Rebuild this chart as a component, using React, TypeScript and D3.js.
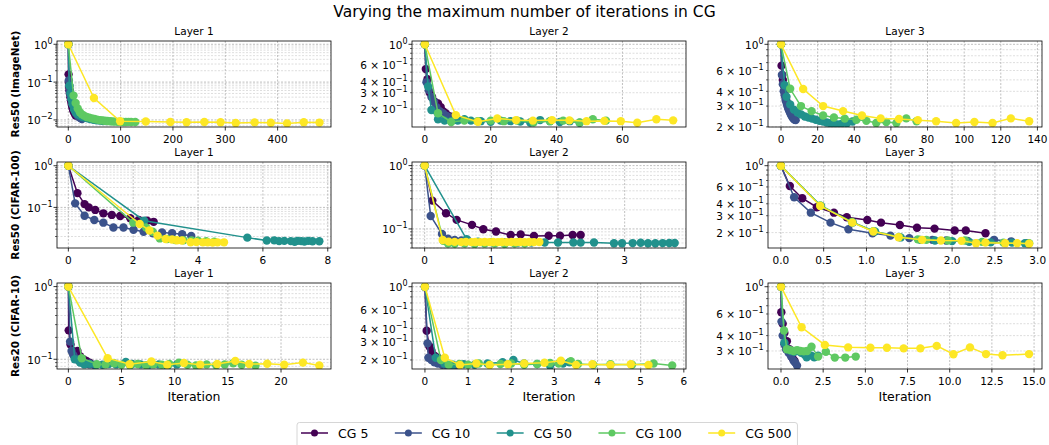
import React, { useEffect, useRef } from 'react';
import * as d3 from 'd3';

type Pt = [number, number];

const W = 1049;
const H = 445;

const chartTitle = 'Varying the maximum number of iterations in CG';
const seriesNames = ['CG 5', 'CG 10', 'CG 50', 'CG 100', 'CG 500'];
const seriesColors = ['#440154', '#3b528b', '#21918c', '#5ec962', '#fde725'];
const rowLabels = ['Res50 (ImageNet)', 'Res50 (CIFAR-100)', 'Res20 (CIFAR-10)'];
const layerTitles = ['Layer 1', 'Layer 2', 'Layer 3'];

// ---- Res50 (ImageNet) ----
const imagenetL1: Pt[][] = [
  [[0, 1], [0.5, 0.16], [1, 0.1], [1.5, 0.075], [2, 0.06], [3, 0.05], [4, 0.04], [5, 0.033], [6, 0.028], [7, 0.024], [8, 0.021], [9, 0.019], [10, 0.017], [12, 0.015], [14, 0.013]],
  [[0, 1], [1, 0.11], [2, 0.08], [3, 0.06], [4, 0.05], [5, 0.042], [6, 0.035], [8, 0.028], [10, 0.023], [12, 0.019], [14, 0.016], [16, 0.014], [18, 0.013], [20, 0.012], [23, 0.0112], [26, 0.0105]],
  [[0, 1], [2, 0.08], [4, 0.05], [6, 0.035], [8, 0.026], [11, 0.019], [14, 0.016], [18, 0.014], [22, 0.013], [27, 0.012], [32, 0.0115], [37, 0.011], [42, 0.0105], [48, 0.0101], [54, 0.0098], [60, 0.0096], [66, 0.0094], [72, 0.0093]],
  [[0, 1], [10, 0.044], [14, 0.028], [18, 0.02], [22, 0.016], [26, 0.014], [30, 0.013], [35, 0.012], [40, 0.0115], [45, 0.011], [50, 0.0106], [55, 0.0102], [60, 0.0099], [65, 0.0097], [70, 0.0095], [75, 0.0094], [80, 0.0092], [85, 0.0091], [90, 0.009], [95, 0.0089], [100, 0.0089], [105, 0.0088], [110, 0.0088], [115, 0.0089], [120, 0.0088], [128, 0.0088]],
  [[0, 1], [49, 0.038], [99, 0.0092], [148, 0.0091], [195, 0.0088], [226, 0.0087], [260, 0.0088], [291, 0.0087], [320, 0.0083], [356, 0.0086], [387, 0.0084], [418, 0.0081], [450, 0.0087], [480, 0.0085]],
];
const imagenetL2: Pt[][] = [
  [[0, 1], [0.3, 0.54], [0.8, 0.42], [1.5, 0.3], [2.2, 0.27], [3, 0.24], [4, 0.23], [4.8, 0.21], [5.5, 0.19], [6.3, 0.18], [7, 0.17], [8, 0.165], [9, 0.16], [10, 0.155]],
  [[0, 1], [0.5, 0.39], [1.2, 0.32], [2, 0.27], [2.8, 0.24], [3.5, 0.21], [4.5, 0.19], [5.5, 0.18], [6.5, 0.17], [7.5, 0.163], [8.5, 0.158], [9.5, 0.154]],
  [[0, 1], [1, 0.35], [2, 0.195], [4, 0.155], [6, 0.15], [8, 0.148], [10, 0.15], [12, 0.155], [14, 0.15], [17, 0.148], [20, 0.146], [23, 0.15], [26, 0.148], [29, 0.147], [32, 0.143], [35, 0.152], [38, 0.148], [41, 0.145], [44, 0.148], [47, 0.142]],
  [[0, 1], [4, 0.18], [8, 0.145], [12, 0.15], [16, 0.148], [20, 0.15], [24, 0.148], [28, 0.15], [33, 0.143], [38, 0.148], [42, 0.15], [47, 0.143], [51, 0.155], [55, 0.15]],
  [[0, 1], [9.4, 0.172], [16.1, 0.146], [22, 0.158], [27.7, 0.152], [32.8, 0.15], [38.6, 0.152], [43.9, 0.151], [49.1, 0.148], [54.5, 0.149], [59.5, 0.148], [64.5, 0.142], [70.3, 0.155], [75.4, 0.151]],
];
const imagenetL3: Pt[][] = [
  [[0, 1], [0.3, 0.66], [0.7, 0.55], [1, 0.5], [1.5, 0.45], [2, 0.4], [2.5, 0.36], [3, 0.33], [3.5, 0.31], [4, 0.29], [4.5, 0.28], [5, 0.27]],
  [[0, 1], [0.5, 0.55], [1, 0.46], [1.5, 0.4], [2, 0.37], [2.5, 0.34], [3, 0.32], [3.5, 0.3], [4, 0.285], [4.5, 0.272], [5, 0.262], [5.5, 0.252], [6, 0.245], [6.5, 0.238], [7, 0.233], [7.5, 0.23], [8, 0.228]],
  [[0, 1], [2, 0.45], [3, 0.36], [5, 0.31], [7, 0.28], [9, 0.265], [11, 0.255], [13, 0.245], [15, 0.24], [17, 0.235], [19, 0.23], [21, 0.225], [23, 0.222], [25, 0.218], [27, 0.215], [29, 0.213], [31, 0.21], [33, 0.212], [36, 0.215], [39, 0.222]],
  [[0, 1], [5, 0.42], [10.9, 0.3], [16.7, 0.272], [23, 0.25], [28.9, 0.24], [34.8, 0.235], [41.2, 0.23], [46.6, 0.225], [52, 0.216], [57.5, 0.22], [63, 0.216], [68.4, 0.236], [74, 0.223]],
  [[0, 1], [12.1, 0.418], [23, 0.3], [33.9, 0.272], [44.2, 0.25], [54.4, 0.236], [64.4, 0.233], [74.7, 0.228], [84.7, 0.223], [95.6, 0.216], [105.6, 0.22], [115.5, 0.216], [125.5, 0.236], [135.5, 0.223]],
];

// ---- Res50 (CIFAR-100) ----
const cifar100L1: Pt[][] = [
  [[0, 1], [0.28, 0.22], [0.5, 0.12], [0.63, 0.1], [0.83, 0.087], [1.08, 0.072], [1.34, 0.066], [1.6, 0.062], [1.91, 0.055], [2.17, 0.05], [2.43, 0.048], [2.63, 0.045]],
  [[0, 1], [0.21, 0.125], [0.5, 0.063], [0.8, 0.05], [1.08, 0.043], [1.39, 0.033], [1.7, 0.033], [2.01, 0.029], [2.32, 0.026], [2.61, 0.024], [2.89, 0.025], [3.2, 0.024], [3.51, 0.0226], [3.79, 0.0206]],
  [[0, 1], [2.34, 0.048], [5.52, 0.0188], [6.12, 0.016], [6.35, 0.0162], [6.5, 0.0155], [6.66, 0.0157], [6.86, 0.0155], [6.98, 0.015], [7.07, 0.0157], [7.18, 0.0155], [7.28, 0.0152], [7.4, 0.0157], [7.53, 0.0154], [7.74, 0.0154]],
  [[0, 1], [2.0, 0.043], [2.4, 0.033], [2.6, 0.026], [2.82, 0.018], [3.05, 0.0175], [3.3, 0.0165], [3.55, 0.0163], [3.8, 0.016], [4.0, 0.0158], [4.25, 0.0155], [4.5, 0.015]],
  [[0, 1], [2.2, 0.04], [2.5, 0.028], [2.75, 0.021], [3.0, 0.0175], [3.2, 0.017], [3.35, 0.0163], [3.5, 0.016], [3.77, 0.0146], [3.95, 0.0147], [4.15, 0.0145], [4.3, 0.0145], [4.45, 0.0143], [4.6, 0.0145], [4.8, 0.0145]],
];
const cifar100L2: Pt[][] = [
  [[0, 1], [0.115, 0.28], [0.32, 0.177], [0.48, 0.139], [0.71, 0.116], [0.88, 0.099], [1.07, 0.091], [1.29, 0.08], [1.44, 0.082], [1.64, 0.0776], [1.86, 0.078], [2.03, 0.078], [2.22, 0.08], [2.34, 0.08]],
  [[0, 1], [0.09, 0.16], [0.26, 0.083], [0.35, 0.07], [0.45, 0.067], [0.55, 0.066], [0.65, 0.065]],
  [[0, 1], [0.63, 0.0687], [0.8, 0.063], [1.0, 0.062], [1.2, 0.062], [1.4, 0.061], [1.6, 0.061], [1.8, 0.061], [2.0, 0.061], [2.23, 0.061], [2.34, 0.0608], [2.54, 0.061], [2.84, 0.0595], [2.96, 0.0595], [3.12, 0.0598], [3.24, 0.0605], [3.35, 0.0595], [3.46, 0.0595], [3.57, 0.0598], [3.67, 0.06], [3.75, 0.06]],
  [[0, 1], [0.28, 0.065], [0.35, 0.059], [0.45, 0.0585], [0.6, 0.059], [0.75, 0.058], [0.9, 0.059], [1.05, 0.059], [1.2, 0.058], [1.35, 0.059], [1.5, 0.059]],
  [[0, 1], [0.27, 0.067], [0.36, 0.063], [0.45, 0.0625], [0.55, 0.062], [0.62, 0.0625], [0.7, 0.062], [0.76, 0.0622], [0.83, 0.062], [0.9, 0.0622], [0.97, 0.062], [1.03, 0.0622], [1.1, 0.062], [1.16, 0.0622], [1.23, 0.062], [1.3, 0.0622], [1.37, 0.062], [1.43, 0.0622], [1.5, 0.062], [1.57, 0.0622], [1.64, 0.062], [1.72, 0.0622]],
];
const cifar100L3: Pt[][] = [
  [[0, 1], [0.105, 0.614], [0.25, 0.457], [0.42, 0.368], [0.62, 0.323], [0.77, 0.289], [1.01, 0.271], [1.17, 0.254], [1.39, 0.24], [1.59, 0.225], [1.795, 0.22], [2.03, 0.21], [2.16, 0.21], [2.39, 0.197]],
  [[0, 1], [0.155, 0.468], [0.35, 0.323], [0.58, 0.254], [0.79, 0.217], [1.07, 0.197], [1.28, 0.186], [1.5, 0.175], [1.77, 0.168], [1.93, 0.165], [2.18, 0.164], [2.49, 0.168], [2.69, 0.162], [2.88, 0.155]],
  [[0, 1], [0.47, 0.38], [0.84, 0.255], [1.1, 0.205], [1.4, 0.178], [1.63, 0.168], [1.8, 0.165], [2.0, 0.163], [2.2, 0.16], [2.45, 0.158], [2.7, 0.157], [2.85, 0.155]],
  [[0, 1], [0.46, 0.385], [0.83, 0.258], [1.08, 0.207], [1.38, 0.18], [1.6, 0.17], [1.7, 0.168], [1.95, 0.165], [2.15, 0.165], [2.35, 0.16], [2.6, 0.157], [2.9, 0.155]],
  [[0, 1], [0.46, 0.38], [0.835, 0.254], [1.08, 0.205], [1.375, 0.179], [1.65, 0.168], [1.87, 0.165], [2.11, 0.164], [2.28, 0.155], [2.39, 0.157], [2.62, 0.155], [2.76, 0.155], [2.9, 0.153]],
];

// ---- Res20 (CIFAR-10) ----
const cifar10L1: Pt[][] = [
  [[0, 1], [0.03, 0.25], [0.2, 0.16], [0.4, 0.13], [0.6, 0.125], [0.85, 0.13], [1.1, 0.11], [1.4, 0.1], [1.7, 0.095], [2.0, 0.09]],
  [[0, 1], [0.16, 0.175], [0.3, 0.13], [0.45, 0.115], [0.6, 0.105], [0.8, 0.1], [1.0, 0.095], [1.3, 0.09], [1.6, 0.088], [2.0, 0.085], [2.4, 0.084]],
  [[0, 1], [0.6, 0.1], [1.1, 0.09], [1.5, 0.085], [2.0, 0.087], [2.6, 0.083], [3.2, 0.084], [3.8, 0.086], [4.5, 0.085], [5.4, 0.092], [6.0, 0.086], [6.8, 0.085], [7.6, 0.084], [8.5, 0.085], [9.3, 0.08], [10.2, 0.085]],
  [[0, 1], [1.26, 0.1035], [2.68, 0.0856], [3.5, 0.085], [4.3, 0.088], [5.0, 0.084], [5.8, 0.082], [6.5, 0.086], [7.3, 0.083], [8.0, 0.085], [8.8, 0.084], [9.5, 0.086], [10.4, 0.09], [11.2, 0.084], [12, 0.082], [13, 0.085], [13.9, 0.083], [14.7, 0.085], [15.5, 0.088], [16.3, 0.084], [17.6, 0.0815]],
  [[0, 1], [3.69, 0.1035], [5.77, 0.0856], [7.81, 0.093], [9.3, 0.084], [10.87, 0.089], [12.4, 0.084], [14.0, 0.086], [15.7, 0.095], [17.0, 0.086], [18.7, 0.087], [20.3, 0.084], [22.06, 0.09], [23.6, 0.082]],
];
const cifar10L2: Pt[][] = [
  [[0, 1], [0.04, 0.38], [0.1, 0.27], [0.15, 0.245], [0.22, 0.22], [0.3, 0.21], [0.38, 0.195], [0.45, 0.185], [0.55, 0.178], [0.65, 0.172], [0.75, 0.168]],
  [[0, 1], [0.06, 0.288], [0.08, 0.21], [0.15, 0.2], [0.22, 0.19], [0.3, 0.185], [0.4, 0.18], [0.5, 0.178], [0.6, 0.175], [0.7, 0.172]],
  [[0, 1], [0.25, 0.21], [0.45, 0.185], [0.65, 0.18], [0.9, 0.182], [1.15, 0.18], [1.45, 0.185], [1.8, 0.19], [2.05, 0.2], [2.3, 0.185], [2.6, 0.183], [2.9, 0.176], [3.2, 0.185], [3.35, 0.19]],
  [[0, 1], [0.37, 0.2], [0.55, 0.18], [0.8, 0.183], [1.0, 0.18], [1.25, 0.185], [1.5, 0.18], [1.75, 0.183], [2.0, 0.185], [2.3, 0.18], [2.6, 0.183], [2.9, 0.187], [3.1, 0.185], [3.38, 0.195], [3.55, 0.183], [3.9, 0.18], [4.3, 0.182], [4.8, 0.18], [5.3, 0.185], [5.73, 0.177]],
  [[0, 1], [0.46, 0.21], [0.81, 0.179], [1.19, 0.185], [1.5, 0.179], [1.92, 0.182], [2.3, 0.185], [2.77, 0.188], [3.15, 0.197], [3.5, 0.179], [3.88, 0.182], [4.3, 0.179], [4.77, 0.182], [5.18, 0.179]],
];
const cifar10L3: Pt[][] = [
  [[0, 1], [0.02, 0.62], [0.1, 0.5], [0.2, 0.42], [0.35, 0.36], [0.5, 0.31], [0.6, 0.28], [0.7, 0.26], [0.8, 0.25]],
  [[0, 1], [0.03, 0.52], [0.1, 0.4], [0.2, 0.34], [0.3, 0.31], [0.45, 0.29], [0.6, 0.27], [0.75, 0.25], [0.85, 0.24], [0.95, 0.228]],
  [[0, 1], [0.2, 0.35], [0.4, 0.31], [0.6, 0.3], [0.8, 0.295], [1.0, 0.3], [1.2, 0.29], [1.4, 0.28], [1.52, 0.267], [1.8, 0.275], [1.97, 0.267], [2.2, 0.275]],
  [[0, 1], [0.18, 0.44], [0.35, 0.31], [0.55, 0.305], [0.75, 0.3], [0.95, 0.305], [1.15, 0.3], [1.35, 0.298], [1.55, 0.3], [1.81, 0.325], [2.2, 0.27], [2.66, 0.296], [3.19, 0.265], [3.81, 0.265], [4.43, 0.27]],
  [[0, 1], [1.22, 0.468], [2.6, 0.336], [3.98, 0.321], [5.3, 0.319], [6.28, 0.319], [7.27, 0.315], [8.26, 0.315], [9.23, 0.33], [10.22, 0.282], [11.2, 0.321], [12.15, 0.283], [13.13, 0.277], [14.7, 0.283]],
];

const panelData = [
  [imagenetL1, imagenetL2, imagenetL3],
  [cifar100L1, cifar100L2, cifar100L3],
  [cifar10L1, cifar10L2, cifar10L3],
];

// axis ranges
const xDomains: [number, number][][] = [
  [[-21.6, 502], [-3.9, 79.3], [-7.1, 142.5]],
  [[-0.35, 8.1], [-0.19, 3.92], [-0.15, 3.05]],
  [[-1.07, 24.7], [-0.3, 6.05], [-0.77, 15.47]],
];
const yDomains: [number, number][][] = [
  [[0.0065, 1.22], [0.128, 1.085], [0.1995, 1.067]],
  [[0.0106, 1.23], [0.05, 1.14], [0.138, 1.093]],
  [[0.0735, 1.12], [0.164, 1.085], [0.214, 1.072]],
];
const xTicks: number[][][] = [
  [[0, 100, 200, 300, 400], [0, 20, 40, 60], [0, 20, 40, 60, 80, 100, 120, 140]],
  [[0, 2, 4, 6, 8], [0, 1, 2, 3], [0, 0.5, 1, 1.5, 2, 2.5, 3]],
  [[0, 5, 10, 15, 20], [0, 1, 2, 3, 4, 5, 6], [0, 2.5, 5, 7.5, 10, 12.5, 15]],
];
const xTickDecimals = [
  [0, 0, 0],
  [0, 0, 1],
  [0, 0, 1],
];
const labelMinor = [
  [false, true, true],
  [false, false, true],
  [false, true, true],
];
const minorLabelled = [2, 3, 4, 6];

const colLeft = [57, 412, 768];
const rowTop = [41, 162, 283];
const plotW = 274;
const plotH = 86;
const font = "'DejaVu Sans', sans-serif";

function logTicks(lo: number, hi: number) {
  const out: { v: number; k: number; e: number }[] = [];
  for (let e = Math.floor(Math.log10(lo)); e <= Math.ceil(Math.log10(hi)); e++) {
    for (let k = 1; k <= 9; k++) {
      const v = k * Math.pow(10, e);
      if (v >= lo && v <= hi) out.push({ v, k, e });
    }
  }
  return out;
}

export default function App() {
  const svgRef = useRef<SVGSVGElement>(null);

  useEffect(() => {
    if (!svgRef.current) return;
    const svg = d3.select(svgRef.current);
    svg.selectAll('*').remove();

    svg.append('rect').attr('width', W).attr('height', H).attr('fill', '#fff');

    svg.append('text')
      .attr('x', 524.5).attr('y', 16.5)
      .attr('text-anchor', 'middle')
      .attr('font-size', 15.5)
      .attr('fill', '#000')
      .text(chartTitle);

    const defs = svg.append('defs');

    panelData.forEach((row, r) => {
      row.forEach((series, c) => {
        const left = colLeft[c];
        const top = rowTop[r];
        const bottom = top + plotH;
        const x = d3.scaleLinear().domain(xDomains[r][c]).range([left, left + plotW]);
        const y = d3.scaleLog().domain(yDomains[r][c]).range([bottom, top]);
        const g = svg.append('g');
        const yt = logTicks(yDomains[r][c][0], yDomains[r][c][1]);

        // grid, both major and minor on y
        g.selectAll('.gy')
          .data(yt)
          .join('line')
          .attr('x1', left).attr('x2', left + plotW)
          .attr('y1', d => y(d.v)).attr('y2', d => y(d.v))
          .attr('stroke', d => (d.k === 1 ? '#b0b0b0' : '#c8c8c8'))
          .attr('stroke-width', d => (d.k === 1 ? 0.8 : 0.6))
          .attr('stroke-dasharray', '2,1.5');
        g.selectAll('.gx')
          .data(xTicks[r][c])
          .join('line')
          .attr('x1', d => x(d)).attr('x2', d => x(d))
          .attr('y1', top).attr('y2', bottom)
          .attr('stroke', '#b0b0b0')
          .attr('stroke-width', 0.8)
          .attr('stroke-dasharray', '2,1.5');

        // series
        const clipId = `clip-${r}-${c}`;
        defs.append('clipPath').attr('id', clipId)
          .append('rect').attr('x', left).attr('y', top).attr('width', plotW).attr('height', plotH);
        const plot = g.append('g').attr('clip-path', `url(#${clipId})`);
        const line = d3.line<Pt>().x(d => x(d[0])).y(d => y(d[1]));
        series.forEach((pts, s) => {
          plot.append('path')
            .attr('d', line(pts))
            .attr('fill', 'none')
            .attr('stroke', seriesColors[s])
            .attr('stroke-width', 1.5);
          plot.selectAll(`.m${s}`)
            .data(pts)
            .join('circle')
            .attr('cx', d => x(d[0]))
            .attr('cy', d => y(d[1]))
            .attr('r', 4.2)
            .attr('fill', seriesColors[s]);
        });

        // frame
        g.append('rect')
          .attr('x', left).attr('y', top).attr('width', plotW).attr('height', plotH)
          .attr('fill', 'none').attr('stroke', '#000').attr('stroke-width', 0.8);

        // x ticks
        const fmt = d3.format(`.${xTickDecimals[r][c]}f`);
        xTicks[r][c].forEach(t => {
          g.append('line')
            .attr('x1', x(t)).attr('x2', x(t))
            .attr('y1', bottom).attr('y2', bottom + 3.5)
            .attr('stroke', '#000').attr('stroke-width', 0.8);
          g.append('text')
            .attr('x', x(t)).attr('y', bottom + 15.5)
            .attr('text-anchor', 'middle')
            .attr('font-size', 10.5)
            .text(fmt(t));
        });

        // y ticks
        yt.forEach(t => {
          const major = t.k === 1;
          g.append('line')
            .attr('x1', left - (major ? 3.5 : 2)).attr('x2', left)
            .attr('y1', y(t.v)).attr('y2', y(t.v))
            .attr('stroke', '#000').attr('stroke-width', major ? 0.8 : 0.6);
          if (major || (labelMinor[r][c] && minorLabelled.includes(t.k))) {
            const lab = g.append('text')
              .attr('x', left - 4.5).attr('y', y(t.v))
              .attr('dy', '0.42em')
              .attr('text-anchor', 'end')
              .attr('font-size', 10.5);
            lab.append('tspan').text(major ? '10' : `${t.k} \u00d7 10`);
            lab.append('tspan')
              .attr('dy', -5)
              .attr('font-size', 8)
              .text(String(t.e).replace('-', '\u2212'));
          }
        });

        // subplot title
        g.append('text')
          .attr('x', left + plotW / 2).attr('y', top - 6)
          .attr('text-anchor', 'middle')
          .attr('font-size', 10.5)
          .text(layerTitles[c]);

        if (c === 0) {
          g.append('text')
            .attr('transform', `translate(18.5,${top + plotH / 2}) rotate(-90)`)
            .attr('text-anchor', 'middle')
            .attr('font-size', 10.5)
            .attr('font-weight', 'bold')
            .text(rowLabels[r]);
        }
        if (r === 2) {
          g.append('text')
            .attr('x', left + plotW / 2).attr('y', 400.5)
            .attr('text-anchor', 'middle')
            .attr('font-size', 12.5)
            .text('Iteration');
        }
      });
    });

    // legend
    const legend = svg.append('g');
    const box = legend.append('rect');
    let sx = 301;
    const ly = 433;
    seriesNames.forEach((name, s) => {
      legend.append('line')
        .attr('x1', sx).attr('x2', sx + 27).attr('y1', ly).attr('y2', ly)
        .attr('stroke', seriesColors[s]).attr('stroke-width', 1.5);
      legend.append('circle')
        .attr('cx', sx + 13.5).attr('cy', ly).attr('r', 3.5)
        .attr('fill', seriesColors[s]);
      const t = legend.append('text')
        .attr('x', sx + 37).attr('y', ly + 4.5)
        .attr('font-size', 12.5)
        .text(name);
      const w = (t.node() as SVGTextElement).getComputedTextLength();
      sx = sx + 37 + w + 26.5;
    });
    box
      .attr('x', 297).attr('y', 422.5)
      .attr('width', sx - 26.5 + 6 - 297).attr('height', 40)
      .attr('rx', 2.5)
      .attr('fill', '#fff').attr('fill-opacity', 0.8)
      .attr('stroke', '#cccccc').attr('stroke-width', 0.8);
  }, []);

  return (
    <svg
      ref={svgRef}
      width={W}
      height={H}
      style={{ position: 'absolute', left: 0, top: 0, fontFamily: font }}
    />
  );
}
